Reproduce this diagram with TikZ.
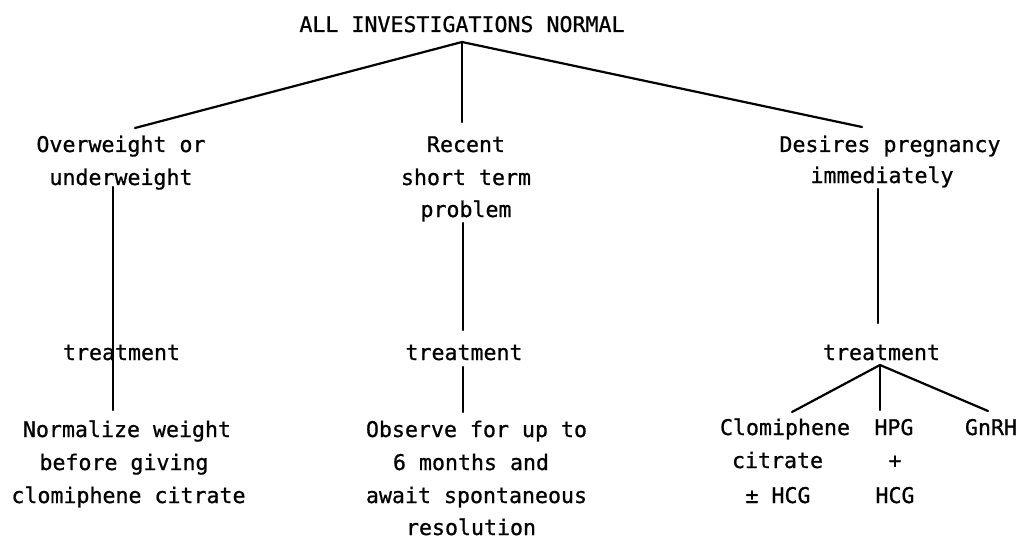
\documentclass[tikz,border=0pt]{standalone}
\usepackage{fontspec}
\newfontfamily\dmono{DejaVu Sans Mono}[FakeBold=0.8]
\tikzset{
  lbl/.style={font=\dmono\fontsize{21.6}{33.5}\selectfont, align=center, inner sep=0pt, anchor=base},
  conn/.style={line width=2.2pt, line cap=round}
}
\begin{document}
\begin{tikzpicture}[x=1pt,y=-1pt]
\useasboundingbox (0,0) rectangle (1022,540);
% top
\node[lbl] (all) at (462,32) {ALL INVESTIGATIONS NORMAL};
% second level
\node[lbl] (ow1) at (121,152) {Overweight or};
\node[lbl] (ow2) at (121,185) {underweight};
\node[lbl] (rc1) at (466,152) {Recent};
\node[lbl] (rc2) at (466,185) {short term};
\node[lbl] (rc3) at (466,217) {problem};
\node[lbl] (dp1) at (890,152) {Desires pregnancy};
\node[lbl] (dp2) at (882,183) {immediately};
% treatment
\node[lbl] (tl) at (121.5,360) {treatment};
\node[lbl] (tm) at (464,360) {treatment};
\node[lbl] (tr) at (881.5,360) {treatment};
% bottom left
\node[lbl] (nl1) at (127,437) {Normalize weight};
\node[lbl] (nl2) at (124,470) {before giving};
\node[lbl] (nl3) at (128.5,503) {clomiphene citrate};
% bottom middle
\node[lbl] (ob1) at (476.5,437) {Observe for up to};
\node[lbl] (ob2) at (471,470) {6 months and};
\node[lbl] (ob3) at (476.5,503) {await spontaneous};
\node[lbl] (ob4) at (471,535) {resolution};
% bottom right
\node[lbl] (cl1) at (785,435) {Clomiphene};
\node[lbl] (cl2) at (777.5,468) {citrate};
\node[lbl] (cl3) at (778,503) {± HCG};
\node[lbl] (hp1) at (894,435) {HPG};
\node[lbl] (hp2) at (895,468) {+};
\node[lbl] (hp3) at (895,503) {HCG};
\node[lbl] (gn) at (991,435) {GnRH};
% connector end points
\coordinate (apex) at (462,42);
\coordinate (aL) at (135,128);
\coordinate (aM) at (462,122);
\coordinate (aR) at (862,127);
\coordinate (lT) at (113,187);
\coordinate (lB) at (113,410);
\coordinate (mT) at (463,223);
\coordinate (mM) at (463,330);
\coordinate (mN) at (463,367);
\coordinate (mB) at (463,412);
\coordinate (rT) at (878,189);
\coordinate (rB) at (878,323);
\coordinate (rA) at (880,365);
\coordinate (r1) at (792,412);
\coordinate (r2) at (880,410);
\coordinate (r3) at (988,411);
\draw[conn] (aL) -- (apex) -- (aR);
\draw[conn] (apex) -- (aM);
\draw[conn] (lT) -- (lB);
\draw[conn] (mT) -- (mM);
\draw[conn] (mN) -- (mB);
\draw[conn] (rT) -- (rB);
\draw[conn] (r1) -- (rA) -- (r3);
\draw[conn] (rA) -- (r2);
\end{tikzpicture}
\end{document}
